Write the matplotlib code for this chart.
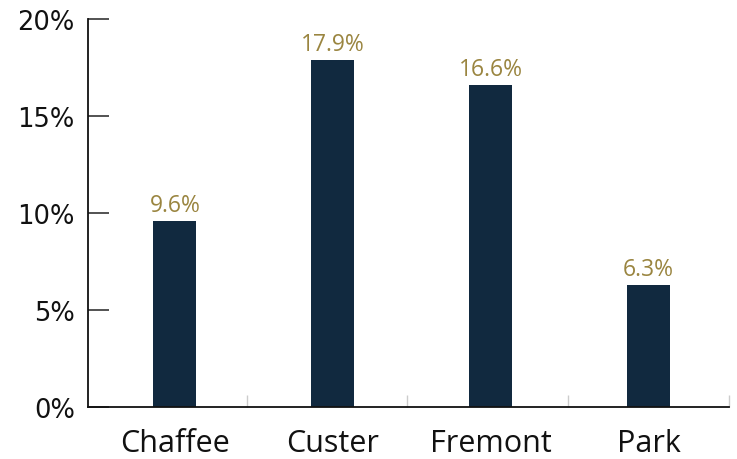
import matplotlib
matplotlib.use("Agg")
import matplotlib.pyplot as plt
from matplotlib.ticker import FuncFormatter

categories = ["Chaffee", "Custer", "Fremont", "Park"]
values = [9.6, 17.9, 16.6, 6.3]
yticks = [0, 5, 10, 15, 20]

bar_color = "#11293f"
label_color = "#9a8540"

fig = plt.figure(figsize=(7.37, 4.6), dpi=100)
ax = fig.add_axes([88/737, 52/460, (729-88)/737, (408-20)/460])

x = list(range(len(categories)))
bars = ax.bar(x, values, width=0.273, color=bar_color, zorder=2)

ax.set_xlim(-0.55, 3.51)
ax.set_ylim(0, 20)
ax.set_yticks(yticks)
ax.yaxis.set_major_formatter(FuncFormatter(lambda v, p: f"{v:.0f}%"))
ax.tick_params(axis="y", direction="in", length=15, width=1.3, color="#444444",
               labelsize=18.5, pad=9.5, labelcolor="#111111")

ax.set_xticks(x)
ax.set_xticklabels(categories, fontsize=22, family="Open Sans", color="#111111")
ax.tick_params(axis="x", length=0, pad=15)
# category separators
ax.set_xticks([0.46, 1.47, 2.49, 3.51], minor=True)
ax.tick_params(axis="x", which="minor", direction="in", length=9, width=1, color="#cccccc")

for s in ["top", "right"]:
    ax.spines[s].set_visible(False)
ax.spines["left"].set_linewidth(1.3)
ax.spines["bottom"].set_linewidth(1.3)
ax.spines["left"].set_color("#111111")
ax.spines["bottom"].set_color("#111111")

for xi, v in zip(x, values):
    ax.annotate(f"{v:.1f}%", (xi, v), xytext=(0, 3), textcoords="offset points",
                ha="center", va="bottom", fontsize=16.5, family="Open Sans", color=label_color)

fig.savefig("out.png", dpi=100)
